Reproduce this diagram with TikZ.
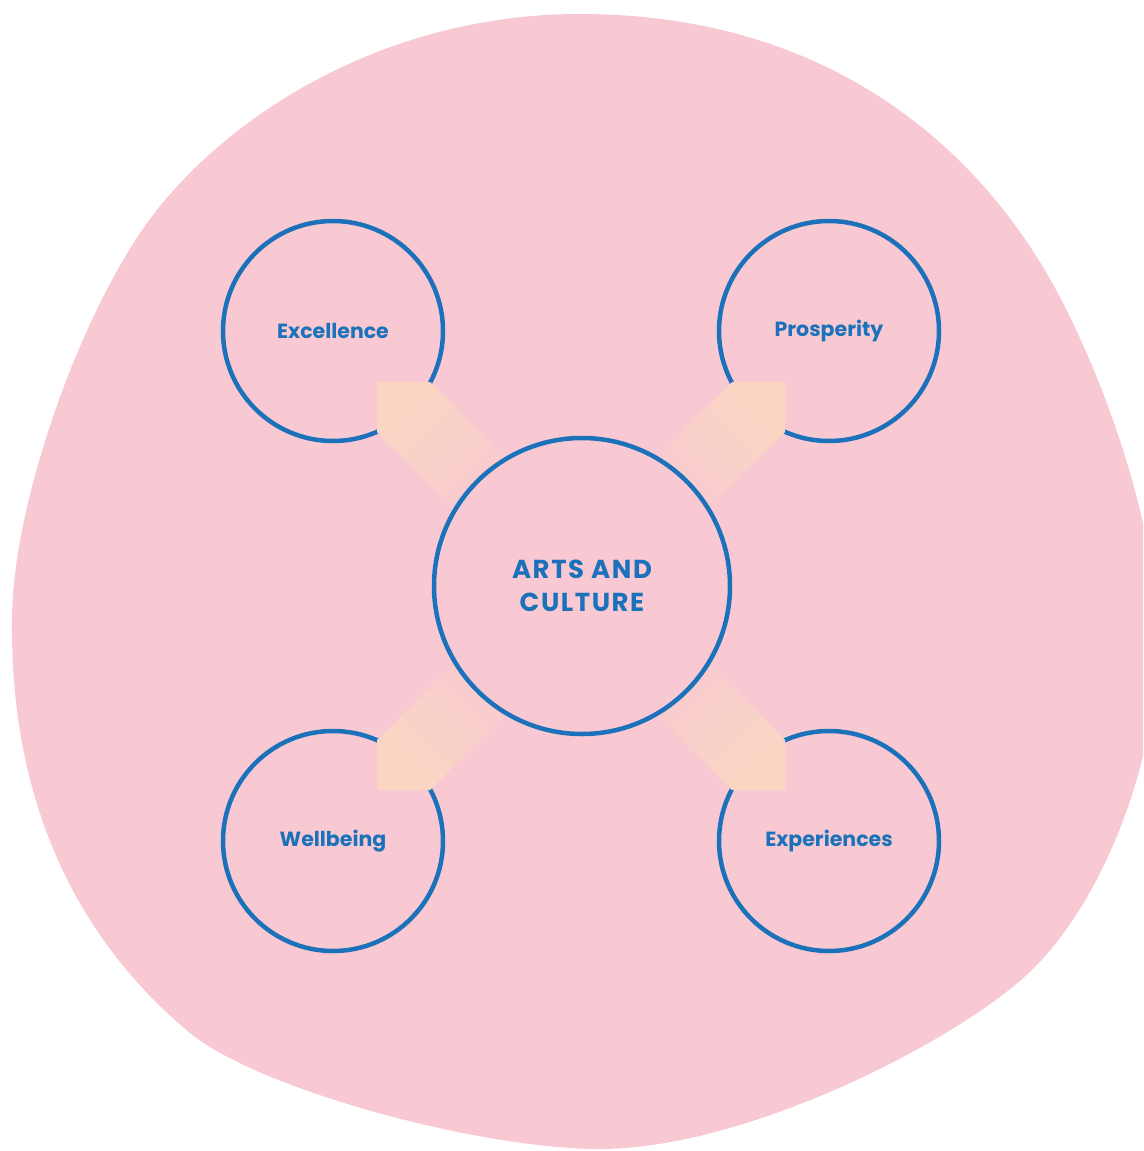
\documentclass[tikz,border=0pt]{standalone}
\usepackage{fontspec}
\setmainfont{Poppins}
\usetikzlibrary{calc}
\definecolor{blobpink}{HTML}{F8C9D2}
\definecolor{peach}{HTML}{FAD6C2}
\definecolor{ringblue}{HTML}{1B72BA}
\tikzset{
  outerring/.style={circle, draw=ringblue, line width=4.5pt, minimum size=220pt, inner sep=0pt,
    text=ringblue, font=\fontsize{20.5}{24}\selectfont\bfseries},
  hubring/.style={circle, draw=ringblue, fill=blobpink, line width=4.5pt, minimum size=296pt, inner sep=0pt,
    text=ringblue, align=center, font=\fontsize{26}{33}\selectfont\bfseries\addfontfeatures{LetterSpace=6}},
  petal/.style={shading=axis, top color=peach, bottom color=blobpink, draw=none}
}
% #1 outer node, #2 sx, #3 sy, #4 shading angle
\newcommand\petalarrow[4]{%
  \coordinate (H#1) at ($(#1.center)+(#2*44,#3*51)$);
  \coordinate (A#1) at ($(H#1)+(#2*53,0)$);
  \coordinate (B#1) at ($(H#1)+(0,#3*50)$);
  \coordinate (TA#1) at ($(A#1)+(#2*95,#3*95)$);
  \coordinate (TB#1) at ($(B#1)+(#2*95,#3*95)$);
  \shade[petal, shading angle=#4] (H#1) -- (A#1) -- (TA#1) -- (TB#1) -- (B#1) -- cycle;
}
\begin{document}
\begin{tikzpicture}[x=1pt, y=-1pt]
\useasboundingbox (0,0) rectangle (1143,1151);
\begin{scope}
\clip (0,0) rectangle (1143,1151);
\fill[blobpink] (580,14)
  .. controls (400,14) and (250,100) .. (165,200)
  .. controls (87,291) and (12,500) .. (12,620)
  .. controls (10,820) and (90,950) .. (190,1033)
  .. controls (260,1090) and (480,1149) .. (600,1149)
  .. controls (740,1149) and (940,1050) .. (1021,980)
  .. controls (1102,910) and (1158,760) .. (1158,640)
  .. controls (1158,520) and (1095,353) .. (1043,267)
  .. controls (965,138) and (820,14) .. (580,14) -- cycle;
\end{scope}
\node[outerring] (exc) at (333,331) {Excellence};
\node[outerring] (pro) at (829,331) {Prosperity};
\node[outerring] (wel) at (333,841) {Wellbeing};
\node[outerring] (exp) at (829,841) {Experiences};
\petalarrow{exc}{1}{1}{45}
\petalarrow{pro}{-1}{1}{-45}
\petalarrow{wel}{1}{-1}{135}
\petalarrow{exp}{-1}{-1}{-135}
\node[hubring] (hub) at (582,586) {ARTS AND\\CULTURE};
\end{tikzpicture}
\end{document}
